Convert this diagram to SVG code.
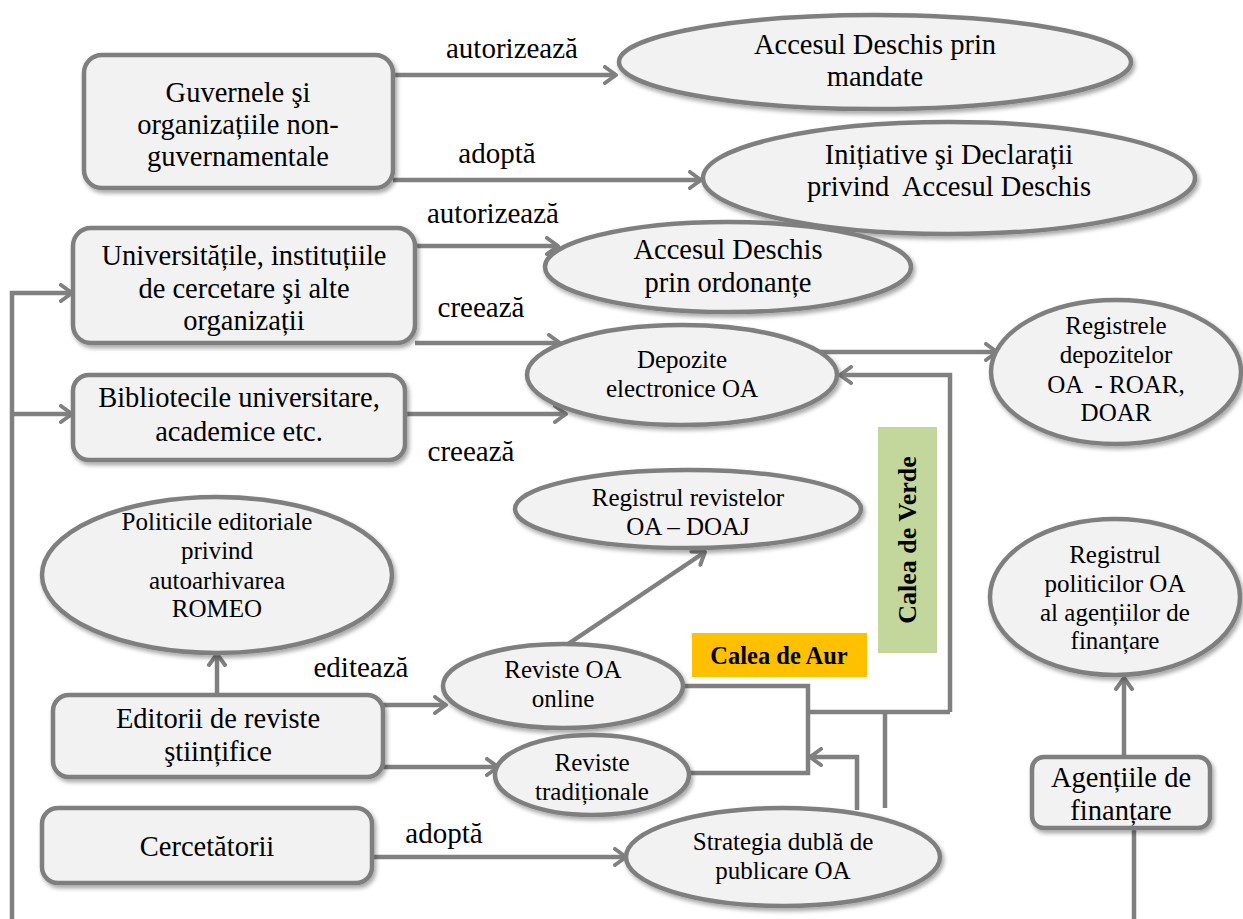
<svg xmlns="http://www.w3.org/2000/svg" width="1243" height="919" viewBox="0 0 1243 919">
<defs>
<filter id="sh" x="-10%" y="-10%" width="130%" height="140%">
<feDropShadow dx="2" dy="3" stdDeviation="2" flood-color="#000" flood-opacity="0.35"/>
</filter>
<marker id="ar" markerUnits="userSpaceOnUse" markerWidth="20" markerHeight="20" refX="15" refY="10" orient="auto">
<path d="M4,2 L15,10 L4,18" fill="none" stroke="#808080" stroke-width="4" stroke-linecap="round" stroke-linejoin="round"/>
</marker>
<style>
.n{fill:#F2F2F2;stroke:#7F7F7F;stroke-width:4.5;filter:url(#sh)}
.t{font-family:"Liberation Serif","Times New Roman",serif;fill:#000;text-anchor:middle}
.b{font-size:28.5px}
.s{font-size:25px}
.l{font-family:"Liberation Serif","Times New Roman",serif;font-size:29px;fill:#000;text-anchor:middle}
.c{fill:none;stroke:#808080;stroke-width:4.5}
.k{font-family:"Liberation Serif","Times New Roman",serif;font-weight:bold;fill:#000;text-anchor:middle}
</style>
</defs>
<rect width="1243" height="919" fill="#fff"/>
<g id="connectors">
<path class="c" d="M393,75 H616" marker-end="url(#ar)"/>
<path class="c" d="M393,180 H701" marker-end="url(#ar)"/>
<path class="c" d="M415,246 H558" marker-end="url(#ar)"/>
<path class="c" d="M415,343 H560" marker-end="url(#ar)"/>
<path class="c" d="M405,414 H566" marker-end="url(#ar)"/>
<path class="c" d="M820,352 H997" marker-end="url(#ar)"/>
<path class="c" d="M950,712 V375 H840" marker-end="url(#ar)"/>
<path class="c" d="M568,644 L705,552" marker-end="url(#ar)"/>
<path class="c" d="M217,695 V654" marker-end="url(#ar)"/>
<path class="c" d="M383,705 H446" marker-end="url(#ar)"/>
<path class="c" d="M383,767 H498" marker-end="url(#ar)"/>
<path class="c" d="M683,686 H808 V773 H688"/>
<path class="c" d="M808,712 H950"/>
<path class="c" d="M885,808 V712"/>
<path class="c" d="M857,810 V757 H810" marker-end="url(#ar)"/>
<path class="c" d="M372,857 H626" marker-end="url(#ar)"/>
<path class="c" d="M1124,757 V678" marker-end="url(#ar)"/>
<path class="c" d="M1134,828 V919"/>
<path class="c" d="M12,919 V293 H72" marker-end="url(#ar)"/>
<path class="c" d="M12,414 H72" marker-end="url(#ar)"/>
</g>
<g id="labels">
<text class="l" x="512" y="58">autorizează</text>
<text class="l" x="497" y="163">adoptă</text>
<text class="l" x="493" y="223">autorizează</text>
<text class="l" x="481" y="317">creează</text>
<text class="l" x="471" y="461">creează</text>
<text class="l" x="361" y="677">editează</text>
<text class="l" x="444" y="843">adoptă</text>
</g>
<g id="guvernele">
<rect class="n" x="84" y="55" width="309" height="133" rx="18"/>
<text class="t b" x="238" y="102">Guvernele şi</text>
<text class="t b" x="238" y="134">organizațiile non-</text>
<text class="t b" x="238" y="166">guvernamentale</text>
</g>
<g id="mandate">
<ellipse class="n" cx="875" cy="62" rx="256" ry="47"/>
<text class="t b" x="875" y="54">Accesul Deschis prin</text>
<text class="t b" x="875" y="86">mandate</text>
</g>
<g id="initiative">
<ellipse class="n" cx="949" cy="178" rx="246" ry="56"/>
<text class="t b" x="949" y="164">Inițiative şi Declarații</text>
<text class="t b" x="949" y="196" xml:space="preserve">privind  Accesul Deschis</text>
</g>
<g id="universitati">
<rect class="n" x="73" y="228" width="342" height="115" rx="18"/>
<text class="t b" x="244" y="265">Universitățile, instituțiile</text>
<text class="t b" x="244" y="298">de cercetare şi alte</text>
<text class="t b" x="244" y="330">organizații</text>
</g>
<g id="ordonante">
<ellipse class="n" cx="728" cy="267" rx="183" ry="45"/>
<text class="t b" x="728" y="259">Accesul Deschis</text>
<text class="t b" x="728" y="292">prin ordonanțe</text>
</g>
<g id="depozite">
<ellipse class="n" cx="682" cy="375" rx="155" ry="50"/>
<text class="t s" x="682" y="368">Depozite</text>
<text class="t s" x="682" y="397">electronice OA</text>
</g>
<g id="biblioteci">
<rect class="n" x="73" y="375" width="332" height="85" rx="16"/>
<text class="t b" x="239" y="407">Bibliotecile universitare,</text>
<text class="t b" x="239" y="441">academice etc.</text>
</g>
<g id="registrele">
<ellipse class="n" cx="1116" cy="372" rx="125" ry="72"/>
<text class="t s" x="1116" y="334">Registrele</text>
<text class="t s" x="1116" y="363">depozitelor</text>
<text class="t s" x="1116" y="393" xml:space="preserve">OA  - ROAR,</text>
<text class="t s" x="1116" y="421">DOAR</text>
</g>
<g id="calea-verde">
<rect x="878" y="427" width="59" height="226" fill="#C3D69B"/>
<text class="k" x="916" y="540" font-size="26" transform="rotate(-90 916 540)">Calea de Verde</text>
</g>
<g id="calea-aur">
<rect x="692" y="633" width="175" height="44" fill="#FFC000"/>
<text class="k" x="779" y="664" font-size="24.5">Calea de Aur</text>
</g>
<g id="doaj">
<ellipse class="n" cx="688" cy="509" rx="173" ry="39"/>
<text class="t s" x="688" y="506">Registrul revistelor</text>
<text class="t s" x="688" y="535">OA – DOAJ</text>
</g>
<g id="politicile">
<ellipse class="n" cx="217" cy="575" rx="175" ry="78"/>
<text class="t s" x="217" y="530">Politicile editoriale</text>
<text class="t s" x="217" y="559">privind</text>
<text class="t s" x="217" y="589">autoarhivarea</text>
<text class="t s" x="217" y="617">ROMEO</text>
</g>
<g id="editorii">
<rect class="n" x="53" y="695" width="330" height="82" rx="16"/>
<text class="t b" x="218" y="728">Editorii de reviste</text>
<text class="t b" x="218" y="761">ştiințifice</text>
</g>
<g id="reviste-online">
<ellipse class="n" cx="563" cy="686" rx="120" ry="42"/>
<text class="t s" x="563" y="678">Reviste OA</text>
<text class="t s" x="563" y="707">online</text>
</g>
<g id="reviste-traditionale">
<ellipse class="n" cx="592" cy="775" rx="97" ry="40"/>
<text class="t s" x="592" y="771">Reviste</text>
<text class="t s" x="592" y="800">tradiționale</text>
</g>
<g id="cercetatorii">
<rect class="n" x="42" y="808" width="330" height="75" rx="16"/>
<text class="t b" x="207" y="856">Cercetătorii</text>
</g>
<g id="strategia">
<ellipse class="n" cx="783" cy="857" rx="157" ry="49"/>
<text class="t s" x="783" y="850">Strategia dublă de</text>
<text class="t s" x="783" y="879">publicare OA</text>
</g>
<g id="registrul-politicilor">
<ellipse class="n" cx="1115" cy="597" rx="125" ry="78"/>
<text class="t s" x="1115" y="563">Registrul</text>
<text class="t s" x="1115" y="592">politicilor OA</text>
<text class="t s" x="1115" y="621">al agențiilor de</text>
<text class="t s" x="1115" y="649">finanțare</text>
</g>
<g id="agentiile">
<rect class="n" x="1032" y="757" width="178" height="71" rx="12"/>
<text class="t b" x="1121" y="787">Agențiile de</text>
<text class="t b" x="1121" y="820">finanțare</text>
</g>
</svg>
